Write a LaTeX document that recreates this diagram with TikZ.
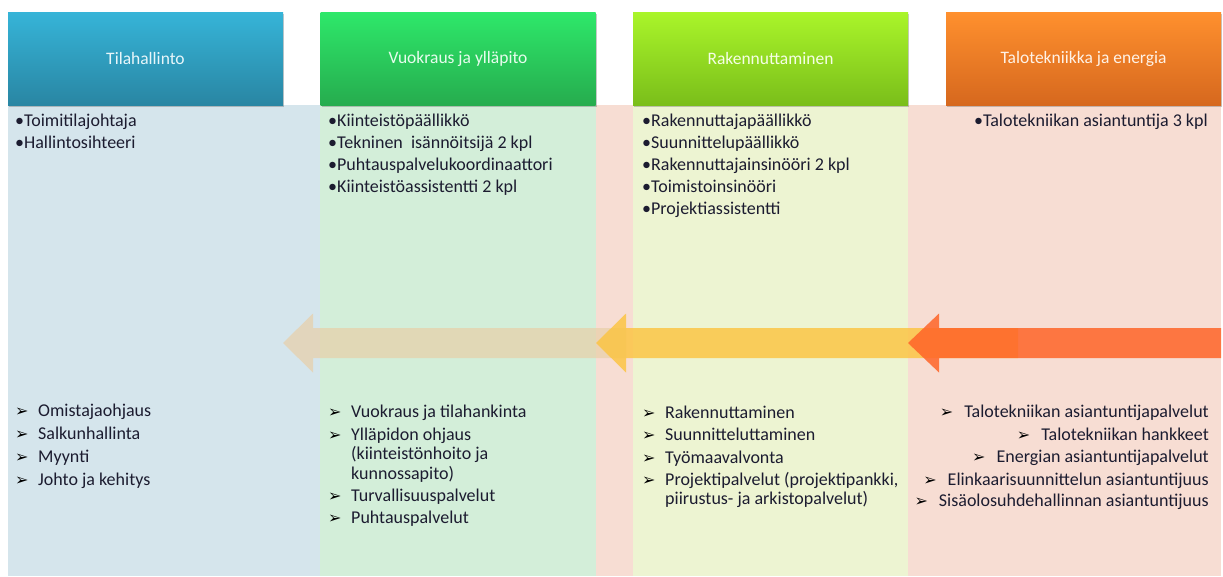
\documentclass[tikz,border=0pt]{standalone}
\usepackage{fontspec}
\setmainfont{Carlito}
\newfontfamily\dingfont{DejaVu Sans}
\usetikzlibrary{shadows}

% column backgrounds
\definecolor{bgBlue}{RGB}{213,229,236}
\definecolor{bgGreen}{RGB}{211,238,217}
\definecolor{bgPink}{RGB}{247,221,211}
\definecolor{bgLime}{RGB}{237,244,210}
% header gradients
\definecolor{blueTop}{RGB}{54,180,216}
\definecolor{blueBot}{RGB}{41,134,163}
\definecolor{greenTop}{RGB}{46,232,106}
\definecolor{greenBot}{RGB}{38,172,78}
\definecolor{limeTop}{RGB}{170,245,42}
\definecolor{limeBot}{RGB}{122,190,26}
\definecolor{orangeTop}{RGB}{255,144,46}
\definecolor{orangeBot}{RGB}{214,104,30}
% text and flow arrows
\definecolor{bodyText}{RGB}{28,28,48}
\definecolor{arrowTan}{RGB}{232,207,168}
\definecolor{arrowGold}{RGB}{252,195,60}
\definecolor{arrowRed}{RGB}{255,100,40}

% arrowhead list marker followed by the gap before the item text
\newcommand\mkglyph{{\dingfont\fontsize{16}{16}\selectfont\color{black}➢}}
\newcommand\mk{\makebox[23pt][l]{\mkglyph}}
\newcommand\mkr{\mkglyph\hspace{11pt}}

\tikzset{
  header/.style n args={2}{top color=#1, bottom color=#2, text=white!88!#1,
    minimum width=275pt, minimum height=93pt, inner sep=0pt,
    font=\fontsize{17.5}{21}\selectfont,
    drop shadow={shadow xshift=1pt, shadow yshift=-2pt, opacity=0.3, fill=black!70}},
  item/.style={inner sep=0pt, anchor=base west, text=bodyText,
    font=\fontsize{18}{21}\selectfont},
  itemr/.style={item, anchor=base east}
}

\begin{document}
\begin{tikzpicture}[x=1pt, y=-1pt]
\useasboundingbox (0,0) rectangle (1223,576);
\fill[white] (0,0) rectangle (1223,576);

% column backgrounds
\fill[bgBlue]  (8,105)   rectangle (320,576);
\fill[bgGreen] (320,105) rectangle (596,576);
\fill[bgPink]  (596,105) rectangle (633,576);
\fill[bgLime]  (633,105) rectangle (908,576);
\fill[bgPink]  (908,105) rectangle (1221,576);

% flow arrows, right to left
\fill[arrowTan, opacity=0.7]
  (283,343) -- (313,313.5) -- (313,328) -- (626,328) -- (626,358)
  -- (313,358) -- (313,372.5) -- cycle;
\fill[arrowGold, opacity=0.8]
  (596,343) -- (626,313.5) -- (626,328) -- (1018,328) -- (1018,358)
  -- (626,358) -- (626,372.5) -- cycle;
\fill[arrowRed, opacity=0.85]
  (908,343) -- (939,313.5) -- (939,328) -- (1221,328) -- (1221,358)
  -- (939,358) -- (939,372.5) -- cycle;

% headers
\node[header={blueTop}{blueBot}]     (h1) at (145.5,58.5)  {Tilahallinto};
\node[header={greenTop}{greenBot}]   (h2) at (458,58.5)    {Vuokraus ja ylläpito};
\node[header={limeTop}{limeBot}]     (h3) at (770.5,58.5)  {Rakennuttaminen};
\node[header={orangeTop}{orangeBot}] (h4) at (1083.5,58.5) {Talotekniikka ja energia};

% staff
\node[item] (s11) at (15,126) {•Toimitilajohtaja};
\node[item] (s12) at (15,148) {•Hallintosihteeri};

\node[item] (s21) at (328,126) {•Kiinteistöpäällikkö};
\node[item] (s22) at (328,148) {•Tekninen~ isännöitsijä 2 kpl};
\node[item] (s23) at (328,170) {•Puhtauspalvelukoordinaattori};
\node[item] (s24) at (328,192) {•Kiinteistöassistentti 2 kpl};

\node[item] (s31) at (642,126) {•Rakennuttajapäällikkö};
\node[item] (s32) at (642,148) {•Suunnittelupäällikkö};
\node[item] (s33) at (642,170) {•Rakennuttajainsinööri 2 kpl};
\node[item] (s34) at (642,192) {•Toimistoinsinööri};
\node[item] (s35) at (642,214) {•Projektiassistentti};

\node[itemr] (s41) at (1208,126) {•Talotekniikan asiantuntija 3 kpl};

% services
\node[item] (p11) at (15,416) {\mk Omistajaohjaus};
\node[item] (p12) at (15,439) {\mk Salkunhallinta};
\node[item] (p13) at (15,462) {\mk Myynti};
\node[item] (p14) at (15,485) {\mk Johto ja kehitys};

\node[item] (p21) at (328,417) {\mk Vuokraus ja tilahankinta};
\node[item] (p22) at (328,440) {\mk\parbox[t]{240pt}{\fontsize{18}{19.5}\selectfont
  Ylläpidon ohjaus\\(kiinteistönhoito ja\\kunnossapito)}};
\node[item] (p23) at (328,501) {\mk Turvallisuuspalvelut};
\node[item] (p24) at (328,523) {\mk Puhtauspalvelut};

\node[item] (p31) at (642,418) {\mk Rakennuttaminen};
\node[item] (p32) at (642,440) {\mk Suunnitteluttaminen};
\node[item] (p33) at (642,463) {\mk Työmaavalvonta};
\node[item] (p34) at (642,485) {\mk\parbox[t]{240pt}{\fontsize{18}{19.5}\selectfont
  Projektipalvelut (projektipankki,\\piirustus- ja arkistopalvelut)}};

\node[itemr] (p41) at (1209,417) {\mkr Talotekniikan asiantuntijapalvelut};
\node[itemr] (p42) at (1209,440) {\mkr Talotekniikan hankkeet};
\node[itemr] (p43) at (1209,462) {\mkr Energian asiantuntijapalvelut};
\node[itemr] (p44) at (1209,485) {\mkr Elinkaarisuunnittelun asiantuntijuus};
\node[itemr] (p45) at (1209,506) {\mkr Sisäolosuhdehallinnan asiantuntijuus};
\end{tikzpicture}
\end{document}
